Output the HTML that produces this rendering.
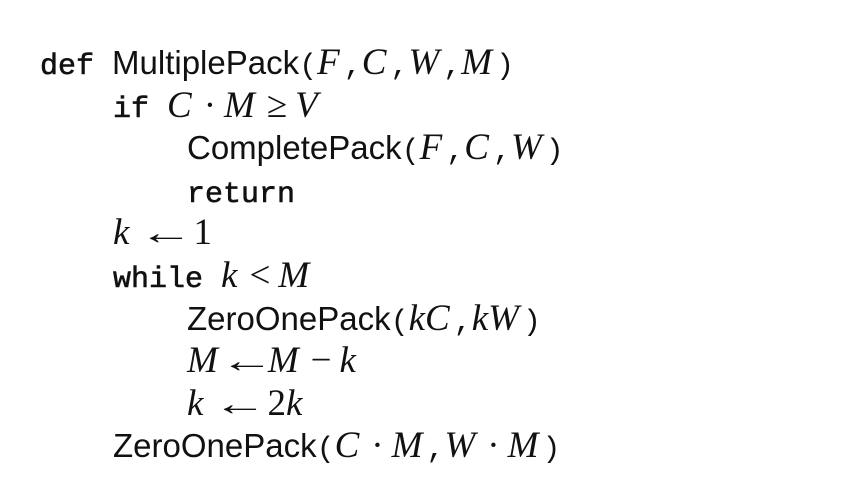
<!DOCTYPE html>
<html><head><meta charset="utf-8"><style>
html,body{margin:0;padding:0;background:#fff;}
body{width:860px;height:495px;position:relative;overflow:hidden;color:#111;}
.l{position:absolute;height:43px;line-height:43px;font-family:"Liberation Sans",sans-serif;font-size:33px;white-space:pre;}
.k{font-family:"Liberation Mono",monospace;font-size:30px;-webkit-text-stroke:0.6px #111;}
.p{font-family:"Liberation Mono",monospace;font-size:30px;}
.m{font-family:"Liberation Serif",serif;font-style:italic;font-size:37px;padding-right:4px;}
.r{font-family:"Liberation Serif",serif;font-size:37px;}
.o{font-family:"Liberation Serif",serif;font-size:37px;display:inline-block;margin:0 8px;}
.a{font-family:"Liberation Serif",serif;font-size:34px;display:inline-block;transform:scaleX(1.6);margin:0 10px 0 16px;}
</style></head><body>
<div class="l" style="left:40px;top:41px"><span class="k">def </span>MultiplePack<span class="p">(</span><span class="m">F</span><span class="p">,</span><span class="m">C</span><span class="p">,</span><span class="m">W</span><span class="p">,</span><span class="m">M</span><span class="p">)</span></div>
<div class="l" style="left:113px;top:84px"><span class="k">if </span><span class="m">C</span><span class="o">·</span><span class="m">M</span><span class="o">≥</span><span class="m">V</span></div>
<div class="l" style="left:187px;top:126px">CompletePack<span class="p">(</span><span class="m">F</span><span class="p">,</span><span class="m">C</span><span class="p">,</span><span class="m">W</span><span class="p">)</span></div>
<div class="l" style="left:187px;top:169px"><span class="k">return</span></div>
<div class="l" style="left:113px;top:211px"><span class="m">k</span><span class="a">←</span><span class="r">1</span></div>
<div class="l" style="left:113px;top:254px"><span class="k">while </span><span class="m">k</span><span class="o">&lt;</span><span class="m">M</span></div>
<div class="l" style="left:187px;top:297px">ZeroOnePack<span class="p">(</span><span class="m">kC</span><span class="p">,</span><span class="m">kW</span><span class="p">)</span></div>
<div class="l" style="left:187px;top:339px"><span class="m">M</span><span class="a" style="margin:0 4px 0 8px">←</span><span class="m">M</span><span class="o">−</span><span class="m">k</span></div>
<div class="l" style="left:187px;top:382px"><span class="m">k</span><span class="a">←</span><span class="r">2</span><span class="m">k</span></div>
<div class="l" style="left:113px;top:424px">ZeroOnePack<span class="p">(</span><span class="m">C</span><span class="o">·</span><span class="m">M</span><span class="p">,</span><span class="m">W</span><span class="o">·</span><span class="m">M</span><span class="p">)</span></div>
</body></html>
